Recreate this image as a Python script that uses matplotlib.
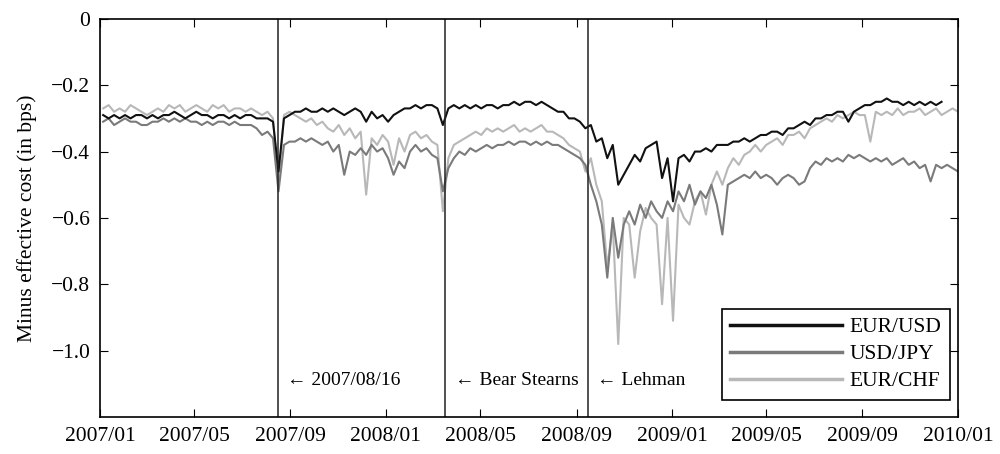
import pandas as pd
import matplotlib.pyplot as plt
import matplotlib.dates as mdates

plt.rcParams['font.family'] = ['Liberation Serif', 'DejaVu Serif']
plt.rcParams['font.size'] = 15.5

# weekly readings (Fridays from 2007-01-05), minus effective cost in bps
eur_usd = [
    -0.29, -0.30, -0.29, -0.30, -0.29, -0.30, -0.29, -0.29,
    -0.30, -0.29, -0.30, -0.29, -0.29, -0.28, -0.29, -0.30, -0.29,
    -0.28, -0.29, -0.29, -0.30, -0.29, -0.29, -0.30, -0.29, -0.30,
    -0.29, -0.29, -0.30, -0.30, -0.30, -0.31, -0.46, -0.30, -0.29,
    -0.28, -0.28, -0.27, -0.28, -0.28, -0.27, -0.28, -0.27,
    -0.28, -0.29, -0.28, -0.27, -0.28, -0.31, -0.28, -0.30, -0.29,
    # 2008
    -0.31, -0.29, -0.28, -0.27, -0.27, -0.26, -0.27, -0.26, -0.26,
    -0.27, -0.32, -0.27, -0.26, -0.27, -0.26, -0.27, -0.26,
    -0.27, -0.26, -0.26, -0.27, -0.26, -0.26, -0.25, -0.26, -0.25,
    -0.25, -0.26, -0.25, -0.26, -0.27, -0.28, -0.28, -0.30, -0.30,
    -0.31, -0.33, -0.32, -0.37, -0.36, -0.42, -0.38, -0.50, -0.47,
    -0.44, -0.41, -0.43, -0.39, -0.38, -0.37, -0.48, -0.42,
    # 2009
    -0.55, -0.42, -0.41, -0.43, -0.40, -0.40, -0.39, -0.40, -0.38,
    -0.38, -0.38, -0.37, -0.37, -0.36, -0.37, -0.36, -0.35,
    -0.35, -0.34, -0.34, -0.35, -0.33, -0.33, -0.32, -0.31, -0.32,
    -0.30, -0.30, -0.29, -0.29, -0.28, -0.28, -0.31, -0.28, -0.27,
    -0.26, -0.26, -0.25, -0.25, -0.24, -0.25, -0.25, -0.26, -0.25,
    -0.26, -0.25, -0.26, -0.25, -0.26, -0.25,
]

usd_jpy = [
    -0.31, -0.30, -0.32, -0.31, -0.30, -0.31, -0.31, -0.32,
    -0.32, -0.31, -0.31, -0.30, -0.31, -0.30, -0.31, -0.30, -0.31,
    -0.31, -0.32, -0.31, -0.32, -0.31, -0.31, -0.32, -0.31, -0.32,
    -0.32, -0.32, -0.33, -0.35, -0.34, -0.36, -0.52, -0.38, -0.37,
    -0.37, -0.36, -0.37, -0.36, -0.37, -0.38, -0.37, -0.40,
    -0.38, -0.47, -0.40, -0.41, -0.39, -0.41, -0.38, -0.40, -0.39,
    # 2008
    -0.42, -0.47, -0.43, -0.45, -0.40, -0.38, -0.40, -0.39, -0.41,
    -0.42, -0.52, -0.45, -0.42, -0.40, -0.41, -0.39, -0.40,
    -0.39, -0.38, -0.39, -0.38, -0.38, -0.37, -0.38, -0.37, -0.37,
    -0.38, -0.37, -0.38, -0.37, -0.38, -0.38, -0.39, -0.40, -0.41,
    -0.42, -0.44, -0.50, -0.55, -0.62, -0.78, -0.60, -0.72, -0.62,
    -0.58, -0.62, -0.56, -0.60, -0.55, -0.58, -0.60, -0.55,
    # 2009
    -0.58, -0.52, -0.55, -0.50, -0.56, -0.52, -0.54, -0.50, -0.56,
    -0.65, -0.50, -0.49, -0.48, -0.47, -0.48, -0.46, -0.48,
    -0.47, -0.48, -0.50, -0.48, -0.47, -0.48, -0.50, -0.49, -0.45,
    -0.43, -0.44, -0.42, -0.43, -0.42, -0.43, -0.41, -0.42, -0.41,
    -0.42, -0.43, -0.42, -0.43, -0.42, -0.44, -0.43, -0.42, -0.44,
    -0.43, -0.45, -0.44, -0.49, -0.44, -0.45, -0.44, -0.45, -0.46,
]

eur_chf = [
    -0.27, -0.26, -0.28, -0.27, -0.28, -0.26, -0.27, -0.28,
    -0.29, -0.28, -0.27, -0.28, -0.26, -0.27, -0.26, -0.28, -0.27,
    -0.26, -0.27, -0.28, -0.26, -0.27, -0.26, -0.28, -0.27, -0.27,
    -0.28, -0.27, -0.28, -0.29, -0.28, -0.30, -0.50, -0.29, -0.28,
    -0.29, -0.30, -0.31, -0.30, -0.32, -0.31, -0.33, -0.34,
    -0.32, -0.35, -0.33, -0.36, -0.34, -0.53, -0.36, -0.38, -0.35,
    # 2008
    -0.37, -0.44, -0.36, -0.40, -0.35, -0.34, -0.36, -0.35, -0.37,
    -0.38, -0.58, -0.42, -0.38, -0.37, -0.36, -0.35, -0.34,
    -0.35, -0.33, -0.34, -0.33, -0.34, -0.33, -0.32, -0.34, -0.33,
    -0.34, -0.33, -0.32, -0.34, -0.34, -0.35, -0.36, -0.38, -0.39,
    -0.40, -0.46, -0.42, -0.50, -0.55, -0.75, -0.62, -0.98, -0.60,
    -0.62, -0.78, -0.64, -0.57, -0.60, -0.62, -0.86, -0.60,
    # 2009
    -0.91, -0.56, -0.60, -0.62, -0.55, -0.52, -0.59, -0.50, -0.46,
    -0.50, -0.45, -0.42, -0.44, -0.41, -0.40, -0.38, -0.40,
    -0.38, -0.37, -0.36, -0.38, -0.35, -0.35, -0.34, -0.36, -0.33,
    -0.32, -0.31, -0.30, -0.31, -0.29, -0.30, -0.29, -0.28, -0.29,
    -0.29, -0.37, -0.28, -0.29, -0.28, -0.29, -0.27, -0.29, -0.28,
    -0.28, -0.27, -0.29, -0.28, -0.27, -0.29, -0.28, -0.27, -0.28,
]

events = ['2007-08-16', '2008-03-17', '2008-09-15']
event_labels = ['\u2190 2007/08/16', '\u2190 Bear Stearns', '\u2190 Lehman']

yticks = [0, -0.2, -0.4, -0.6, -0.8, -1.0]
ytick_labels = ['0', '\u22120.2', '\u22120.4', '\u22120.6', '\u22120.8', '\u22121.0']

start = pd.Timestamp('2007-01-05')

fig = plt.figure(figsize=(10, 4.54), dpi=100)
ax = fig.add_axes([0.100, 0.0815, 0.858, 0.877])

series = [(eur_usd, 'EUR/USD', '#111111'),
          (usd_jpy, 'USD/JPY', '#7a7a7a'),
          (eur_chf, 'EUR/CHF', '#b8b8b8')]
# draw lightest first so darker lines sit on top
for vals, name, col in reversed(series):
    d = pd.date_range(start, periods=len(vals), freq='7D')
    ax.plot(d, vals, color=col, lw=1.5, label=name)

for ev, lab in zip(events, event_labels):
    t = pd.Timestamp(ev)
    ax.axvline(t, color='#222222', lw=1.1)
    ax.annotate(lab, xy=(t, -1.09), xytext=(7, 0), textcoords='offset points',
                va='center', ha='left', fontsize=14)

ax.set_xlim(pd.Timestamp('2007-01-01'), pd.Timestamp('2010-01-01'))
ax.set_ylim(-1.2, 0)
ax.set_yticks(yticks)
ax.set_yticklabels(ytick_labels)
ax.xaxis.set_major_locator(mdates.MonthLocator(bymonth=[1, 5, 9]))
ax.xaxis.set_major_formatter(mdates.DateFormatter('%Y/%m'))
ax.tick_params(direction='in', length=6, top=True, right=True, labelsize=15.5, pad=7)
ax.set_ylabel('Minus effective cost (in bps)', fontsize=15.5, labelpad=10)
for s in ax.spines.values():
    s.set_linewidth(1.2)

handles, labels = ax.get_legend_handles_labels()
leg = ax.legend(handles[::-1], labels[::-1], loc='lower right',
                bbox_to_anchor=(0.991, 0.043), borderaxespad=0,
                handlelength=5.2, handletextpad=0.35, labelspacing=0.32,
                borderpad=0.4, fancybox=False,
                edgecolor='black', framealpha=1, fontsize=15.5)
leg.get_frame().set_linewidth(1.2)
for ln in leg.get_lines():
    ln.set_linewidth(2.5)

fig.savefig('out.png', dpi=100)
